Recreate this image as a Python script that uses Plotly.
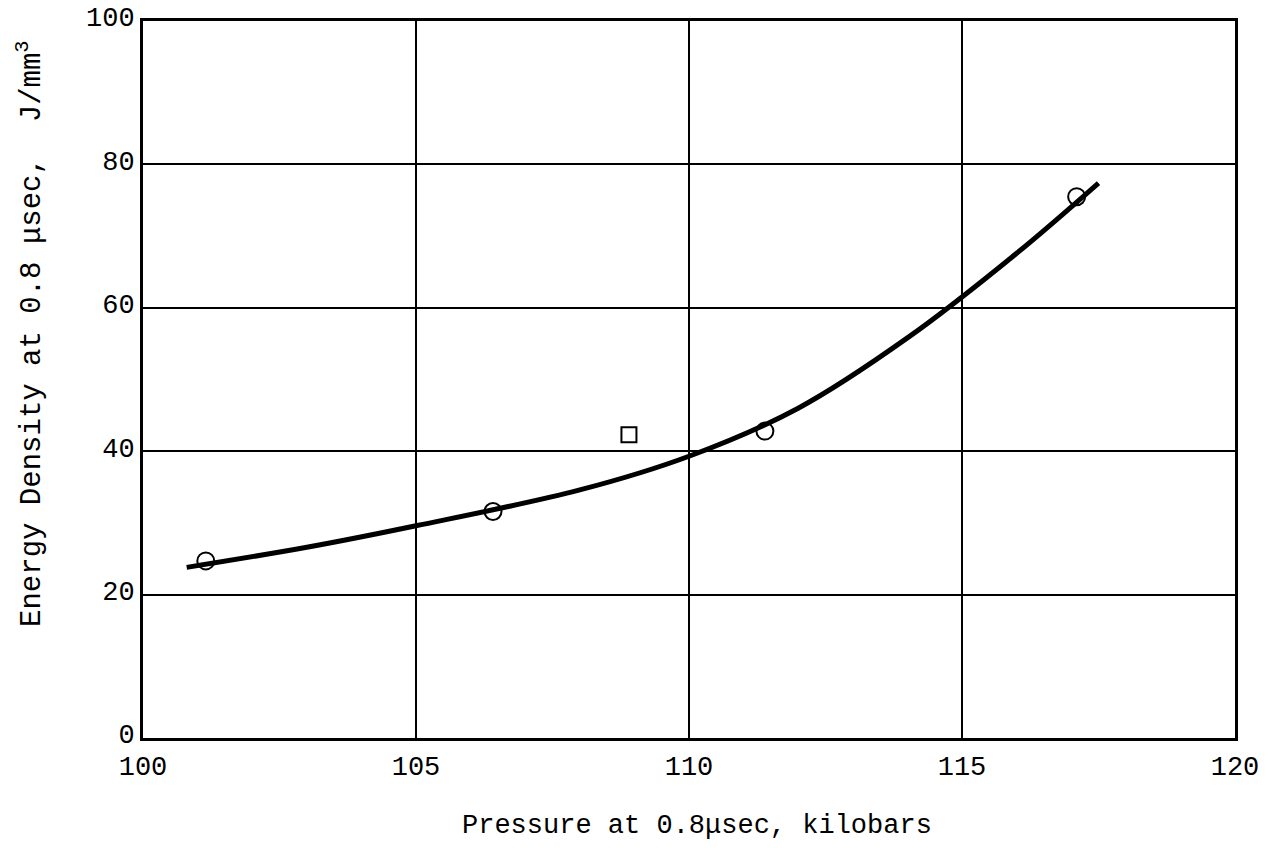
import plotly.graph_objects as go

# Measured data points (circles)
circle_x = [101.15, 106.41, 111.39, 117.1]
circle_y = [24.7, 31.6, 42.8, 75.5]

# Square point
square_x = [108.9]
square_y = [42.3]

# Fitted curve
curve_x = [100.8, 103.0, 105.0, 108.0, 110.0, 112.0, 114.0, 116.0, 117.5]
curve_y = [23.8, 26.6, 29.6, 34.6, 39.3, 46.0, 55.8, 67.6, 77.4]

x_ticks = [100, 105, 110, 115, 120]
y_ticks = [0, 20, 40, 60, 80, 100]

font_fam = "Liberation Mono, Courier New, monospace"

fig = go.Figure()
fig.add_trace(go.Scatter(x=curve_x, y=curve_y, mode="lines",
                         line=dict(color="black", width=5, shape="spline", smoothing=1.0),
                         showlegend=False, hoverinfo="skip"))
fig.add_trace(go.Scatter(x=circle_x, y=circle_y, mode="markers",
                         marker=dict(symbol="circle-open", size=17, color="black",
                                     line=dict(width=2, color="black")),
                         showlegend=False))
fig.add_trace(go.Scatter(x=square_x, y=square_y, mode="markers",
                         marker=dict(symbol="square-open", size=15, color="black",
                                     line=dict(width=2, color="black")),
                         showlegend=False))

fig.update_layout(
    width=1270, height=848,
    margin=dict(l=143, r=35, t=21, b=110),
    paper_bgcolor="white", plot_bgcolor="white",
    font=dict(family=font_fam, color="black", size=24),
    xaxis=dict(range=[100, 120], tickvals=x_ticks, ticktext=[str(v) for v in x_ticks],
               showgrid=True, gridcolor="black", gridwidth=1.5,
               showline=True, linecolor="black", linewidth=3, mirror=True,
               zeroline=False, ticks="", tickfont=dict(size=27, family=font_fam),
               ticklabelstandoff=2, automargin=False),
    yaxis=dict(range=[0, 100], tickvals=y_ticks, ticktext=[str(v) for v in y_ticks],
               showgrid=True, gridcolor="black", gridwidth=1.5,
               showline=True, linecolor="black", linewidth=3, mirror=True,
               zeroline=False, ticks="", tickfont=dict(size=27, family=font_fam),
               ticklabelshift=-4, automargin=False),
    annotations=[
        dict(text="Pressure at 0.8\u03bcsec, kilobars", xref="paper", yref="paper",
             x=0.507, y=-0.1227, xanchor="center", yanchor="middle", showarrow=False,
             font=dict(size=27, family=font_fam, color="black")),
        dict(text="Energy Density at 0.8 \u03bcsec,  J/mm<sup>3</sup>", xref="paper", yref="paper",
             x=-0.1035, y=0.5635, xanchor="center", yanchor="middle", showarrow=False,
             textangle=-90, font=dict(size=29, family=font_fam, color="black")),
    ],
)

fig.write_html("out.html")
